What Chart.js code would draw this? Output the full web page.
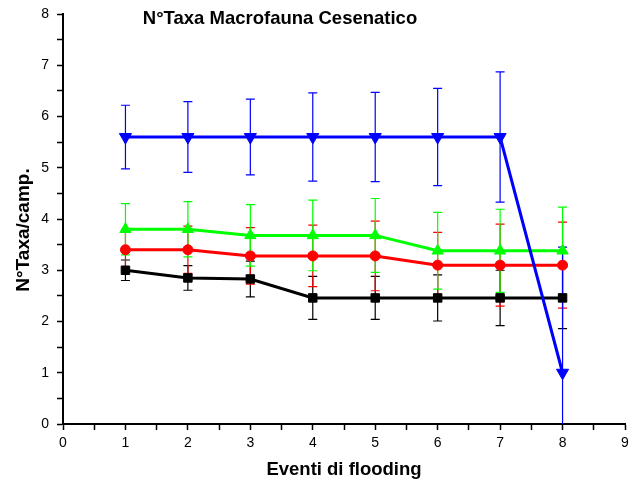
<!DOCTYPE html>
<html>
<head>
<meta charset="utf-8">
<script src="https://cdn.jsdelivr.net/npm/chart.js@4"></script>
<style>
  html, body { margin: 0; padding: 0; background: #fff; }
  canvas { display: block; }
</style>
</head>
<body>
<canvas id="chart" width="629" height="488"></canvas>
<script>
// eventi di flooding
const eventi = [1, 2, 3, 4, 5, 6, 7, 8];

// N° taxa medi per campionamento, con deviazione standard
const serieBlu = [5.6, 5.6, 5.6, 5.6, 5.6, 5.6, 5.6, 1.0];
const errBlu = [0.62, 0.69, 0.74, 0.86, 0.87, 0.95, 1.27, 2.45];
const serieVerde = [3.8, 3.8, 3.68, 3.68, 3.68, 3.38, 3.38, 3.38];
const errVerde = [0.5, 0.54, 0.6, 0.69, 0.72, 0.75, 0.81, 0.85];
const serieRossa = [3.4, 3.4, 3.28, 3.28, 3.28, 3.1, 3.1, 3.1];
const errRosso = [0.4, 0.46, 0.55, 0.6, 0.68, 0.64, 0.8, 0.84];
const serieNera = [3.0, 2.85, 2.83, 2.46, 2.46, 2.46, 2.46, 2.46];
const errNero = [0.2, 0.24, 0.35, 0.42, 0.42, 0.45, 0.54, 0.6];

const titolo = "N°Taxa Macrofauna Cesenatico";
const titoloY = "N°Taxa/camp.";
const titoloX = "Eventi di flooding";
const FONT = "Arial, 'Liberation Sans', sans-serif";

const punti = (ys) => eventi.map((x, i) => ({ x: x, y: ys[i] }));

// barre d'errore disegnate con le scale del grafico
const errorBars = {
    id: 'errorBars',
    beforeDatasetsDraw(chart) {
        const { ctx, chartArea, scales: { x, y } } = chart;
        ctx.save();
        ctx.beginPath();
        ctx.rect(chartArea.left, 0, chartArea.width + 5, chartArea.bottom);
        ctx.clip();
        ctx.lineWidth = 1.2;
        for (let d = chart.data.datasets.length - 1; d >= 0; d--) {
            const ds = chart.data.datasets[d];
            ctx.strokeStyle = ds.borderColor;
            ds.data.forEach((p, i) => {
                const e = ds.errori[i];
                const px = x.getPixelForValue(p.x);
                const top = y.getPixelForValue(p.y + e);
                const bot = y.getPixelForValue(p.y - e);
                ctx.beginPath();
                ctx.moveTo(px, top); ctx.lineTo(px, bot);
                ctx.moveTo(px - 4.5, top); ctx.lineTo(px + 4.5, top);
                ctx.moveTo(px - 4.5, bot); ctx.lineTo(px + 4.5, bot);
                ctx.stroke();
            });
        }
        ctx.restore();
    }
};

// titolo dentro l'area del grafico e titolo dell'asse y
const titoli = {
    id: 'titoli',
    afterDraw(chart) {
        const { ctx, chartArea } = chart;
        ctx.save();
        ctx.font = "bold 18.5px " + FONT;
        ctx.fillStyle = "#000";
        ctx.textAlign = "center";
        ctx.textBaseline = "middle";
        ctx.fillText(titolo, 280, 19);

        ctx.font = "bold 19px " + FONT;
        ctx.translate(24, (chartArea.top + chartArea.bottom) / 2 + 11);
        ctx.rotate(-Math.PI / 2);
        ctx.fillText(titoloY, 0, 0);
        ctx.restore();
    }
};

const serie = (ys, err, colore, stile, rot, r) => ({
    data: punti(ys),
    errori: err,
    borderColor: colore,
    backgroundColor: colore,
    borderWidth: 3,
    pointStyle: stile,
    pointRotation: rot,
    pointRadius: r,
    pointBorderWidth: 1,
    tension: 0
});

const griglia = { display: true, drawOnChartArea: false, drawTicks: true, tickLength: 6, tickColor: "#000", tickWidth: 1.5 };

new Chart(document.getElementById('chart'), {
    type: 'line',
    data: {
        datasets: [
            serie(serieBlu, errBlu, "#0000ff", 'triangle', 180, 7),
            serie(serieVerde, errVerde, "#00ff00", 'triangle', 0, 6.5),
            serie(serieRossa, errRosso, "#ff0000", 'circle', 0, 5),
            serie(serieNera, errNero, "#000000", 'rect', 0, 6)
        ]
    },
    options: {
        responsive: false,
        animation: false,
        devicePixelRatio: 1,
        layout: { autoPadding: false, padding: { top: 14, right: 4, bottom: 0, left: 0 } },
        plugins: {
            legend: { display: false },
            tooltip: { enabled: false }
        },
        scales: {
            x: {
                type: 'linear',
                min: 0, max: 9,
                afterFit(s) {
                    s.height = 64;
                    s.paddingLeft = 0;
                    s.paddingRight = 0;
                },
                border: { display: true, color: "#000", width: 2 },
                grid: griglia,
                ticks: {
                    stepSize: 0.5,
                    autoSkip: false,
                    maxRotation: 0,
                    padding: 5,
                    color: "#000",
                    font: { family: FONT, size: 14 },
                    callback: v => Number.isInteger(v) ? v : ''
                },
                title: {
                    display: true,
                    text: titoloX,
                    color: "#000",
                    font: { family: FONT, size: 18.5, weight: 'bold' },
                    padding: { top: 0, bottom: 7 }
                }
            },
            y: {
                min: 0, max: 8,
                afterFit(s) {
                    s.width = 63;
                    s.paddingTop = 0;
                    s.paddingBottom = 0;
                },
                border: { display: true, color: "#000", width: 2 },
                grid: griglia,
                ticks: {
                    stepSize: 0.5,
                    autoSkip: false,
                    padding: 8,
                    color: "#000",
                    font: { family: FONT, size: 14 },
                    callback: v => Number.isInteger(v) ? v : ''
                }
            }
        }
    },
    plugins: [errorBars, titoli]
});
</script>
</body>
</html>
